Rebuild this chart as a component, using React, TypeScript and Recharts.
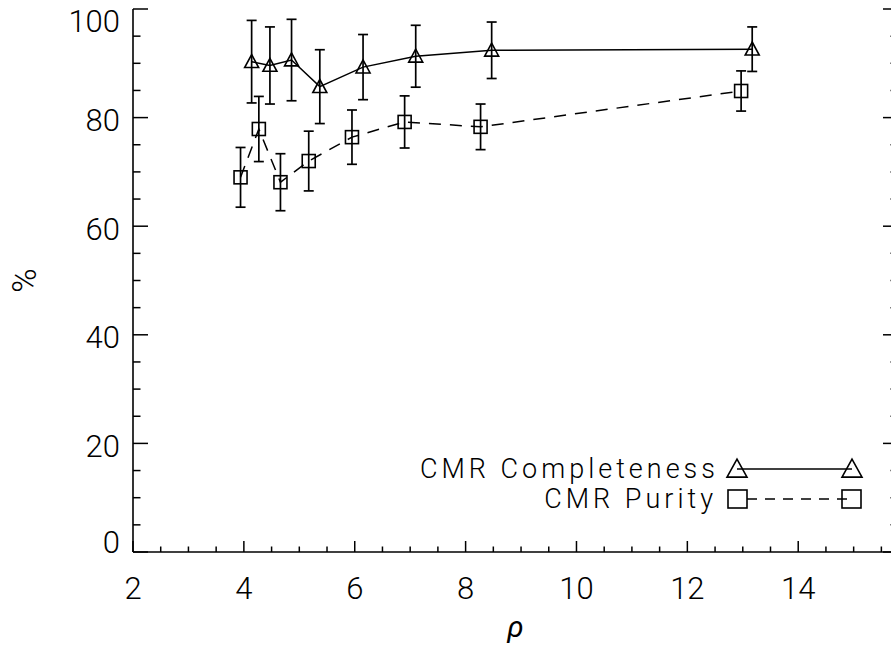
import React from 'react';
import { ScatterChart, Scatter, XAxis, YAxis, ErrorBar, Legend } from 'recharts';

// values
const rhoCompleteness = [4.14, 4.47, 4.86, 5.37, 6.15, 7.1, 8.47, 13.17];
const completeness = [90.3, 89.6, 90.6, 85.7, 89.3, 91.3, 92.4, 92.6];
const completenessErr = [7.6, 7.1, 7.5, 6.8, 6.0, 5.7, 5.2, 4.1];

const rhoPurity = [3.94, 4.27, 4.66, 5.17, 5.95, 6.9, 8.27, 12.97];
const purity = [69.0, 77.9, 68.1, 72.0, 76.4, 79.2, 78.3, 84.9];
const purityErr = [5.5, 6.0, 5.25, 5.5, 5.0, 4.8, 4.2, 3.7];

const seriesNames = ['CMR Completeness', 'CMR Purity'];

const xTicks = [2, 2.5, 3, 3.5, 4, 4.5, 5, 5.5, 6, 6.5, 7, 7.5, 8, 8.5, 9, 9.5, 10, 10.5, 11, 11.5, 12, 12.5, 13, 13.5, 14, 14.5, 15, 15.5];
const xLabels = [2, 4, 6, 8, 10, 12, 14];
const yTicks = [0, 5, 10, 15, 20, 25, 30, 35, 40, 45, 50, 55, 60, 65, 70, 75, 80, 85, 90, 95, 100];
const yLabels = [0, 20, 40, 60, 80, 100];

const xDomain = [2, 15.8];
const yDomain = [0, 100];

const completenessData = rhoCompleteness.map((x, i) => ({ x, y: completeness[i], err: completenessErr[i] }));
const purityData = rhoPurity.map((x, i) => ({ x, y: purity[i], err: purityErr[i] }));

const FONT = 'Roboto, "Liberation Sans", sans-serif';
const INK = '#000';

function triangle(cx: number, cy: number, w: number, h: number) {
    return `${cx},${cy - h * 0.55} ${cx - w / 2},${cy + h * 0.45} ${cx + w / 2},${cy + h * 0.45}`;
}

const TriangleDot = (props: any) => {
    const { cx, cy } = props;
    if (cx == null || cy == null) return null;
    return <polygon points={triangle(cx, cy, 14, 13)} fill="none" stroke={INK} strokeWidth={1.6} />;
};

const SquareDot = (props: any) => {
    const { cx, cy } = props;
    if (cx == null || cy == null) return null;
    return <rect x={cx - 6.5} y={cy - 6.5} width={13} height={13} fill="none" stroke={INK} strokeWidth={1.6} />;
};

const BottomTick = ({ x, y, payload }: any) => {
    const major = xLabels.includes(payload.value);
    return (
        <g>
            <line x1={x} y1={y} x2={x} y2={y - (major ? 11 : 5.5)} stroke={INK} strokeWidth={1.5} />
            {major && (
                <text x={x} y={y + 47} textAnchor="middle" fontSize={31} fontFamily={FONT} fontWeight={300} fill={INK}>
                    {payload.value}
                </text>
            )}
        </g>
    );
};

const TopTick = ({ x, y, payload }: any) => {
    const major = xLabels.includes(payload.value);
    return <line x1={x} y1={y} x2={x} y2={y + (major ? 11 : 5.5)} stroke={INK} strokeWidth={1.5} />;
};

const LeftTick = ({ x, y, payload }: any) => {
    const major = yLabels.includes(payload.value);
    // end labels get nudged inward like the original
    let base = y + 13.5;
    if (payload.value === yDomain[0]) base = y + 1;
    if (payload.value === yDomain[1]) base = y + 22.5;
    return (
        <g>
            <line x1={x} y1={y} x2={x + (major ? 15 : 7.5)} y2={y} stroke={INK} strokeWidth={1.5} />
            {major && (
                <text x={x - 13} y={base} textAnchor="end" fontSize={31} fontFamily={FONT} fontWeight={300} fill={INK}>
                    {payload.value}
                </text>
            )}
        </g>
    );
};

const RightTick = ({ x, y, payload }: any) => {
    const major = yLabels.includes(payload.value);
    return <line x1={x} y1={y} x2={x - (major ? 15 : 7.5)} y2={y} stroke={INK} strokeWidth={1.5} />;
};

const LegendBox = () => (
    <svg width={910} height={647} style={{ position: 'absolute', left: 0, top: 0 }}>
        <text x={719} y={478} textAnchor="end" fontSize={27} fontFamily={FONT} fontWeight={300} letterSpacing={4} fill={INK}>
            {seriesNames[0]}
        </text>
        <line x1={737} y1={469} x2={852} y2={469} stroke={INK} strokeWidth={1.5} />
        <polygon points={triangle(737, 469, 20, 18)} fill="none" stroke={INK} strokeWidth={1.6} />
        <polygon points={triangle(852, 469, 20, 18)} fill="none" stroke={INK} strokeWidth={1.6} />
        <text x={717} y={508} textAnchor="end" fontSize={27} fontFamily={FONT} fontWeight={300} letterSpacing={4} fill={INK}>
            {seriesNames[1]}
        </text>
        <line x1={747} y1={499} x2={852} y2={499} stroke={INK} strokeWidth={1.5} strokeDasharray="10 8" />
        <rect x={728} y={490} width={19} height={18} fill="none" stroke={INK} strokeWidth={1.6} />
        <rect x={842} y={490} width={19} height={18} fill="none" stroke={INK} strokeWidth={1.6} />
    </svg>
);

export default function App() {
    return (
        <div style={{ position: 'absolute', left: 0, top: 0, width: 891, height: 647, overflow: 'hidden', background: '#fff' }}>
            <ScatterChart width={910} height={647} margin={{ top: 9, right: 0, left: 0, bottom: 0 }}>
                <XAxis
                    xAxisId={0}
                    type="number"
                    dataKey="x"
                    domain={xDomain}
                    ticks={xTicks}
                    interval={0}
                    allowDataOverflow
                    height={95}
                    tickSize={0}
                    tickMargin={0}
                    tickLine={false}
                    axisLine={{ stroke: INK, strokeWidth: 1.6 }}
                    tick={<BottomTick />}
                    label={{
                        content: ({ viewBox }: any) => (
                            <text x={viewBox.x + viewBox.width / 2} y={viewBox.y + 85} textAnchor="middle" fontSize={30} fontStyle="italic" fontFamily={FONT} fill={INK}>
                                ρ
                            </text>
                        ),
                    }}
                />
                <XAxis
                    xAxisId="top"
                    orientation="top"
                    type="number"
                    dataKey="x"
                    domain={xDomain}
                    ticks={xTicks}
                    interval={0}
                    allowDataOverflow
                    height={0}
                    tickSize={0}
                    tickMargin={0}
                    tickLine={false}
                    axisLine={{ stroke: INK, strokeWidth: 1.6 }}
                    tick={<TopTick />}
                />
                <YAxis
                    yAxisId={0}
                    type="number"
                    dataKey="y"
                    domain={yDomain}
                    ticks={yTicks}
                    interval={0}
                    allowDataOverflow
                    width={133}
                    tickSize={0}
                    tickMargin={0}
                    tickLine={false}
                    axisLine={{ stroke: INK, strokeWidth: 1.6 }}
                    tick={<LeftTick />}
                    label={{
                        content: ({ viewBox }: any) => (
                            <text
                                x={viewBox.x + 24}
                                y={viewBox.y + viewBox.height / 2}
                                transform={`rotate(-90 ${viewBox.x + 24} ${viewBox.y + viewBox.height / 2})`}
                                textAnchor="middle"
                                dominantBaseline="central"
                                fontSize={33}
                                fontFamily={FONT}
                                fontWeight={300}
                                fill={INK}
                            >
                                %
                            </text>
                        ),
                    }}
                />
                <YAxis
                    yAxisId="right"
                    orientation="right"
                    type="number"
                    dataKey="y"
                    domain={yDomain}
                    ticks={yTicks}
                    interval={0}
                    allowDataOverflow
                    width={12}
                    tickSize={0}
                    tickMargin={0}
                    tickLine={false}
                    axisLine={{ stroke: INK, strokeWidth: 1.6 }}
                    tick={<RightTick />}
                />
                <Legend
                    layout="horizontal"
                    verticalAlign="middle"
                    align="center"
                    wrapperStyle={{ position: 'absolute', left: 0, top: 0, width: 910, height: 647, pointerEvents: 'none' }}
                    content={() => <LegendBox />}
                />
                <Scatter
                    name={seriesNames[0]}
                    data={completenessData}
                    shape={<TriangleDot />}
                    line={{ stroke: INK, strokeWidth: 1.5 }}
                    lineType="joint"
                    isAnimationActive={false}
                >
                    <ErrorBar dataKey="err" direction="y" width={5} stroke={INK} strokeWidth={1.7} />
                </Scatter>
                <Scatter
                    name={seriesNames[1]}
                    data={purityData}
                    shape={<SquareDot />}
                    line={{ stroke: INK, strokeWidth: 1.5, strokeDasharray: '12 9' }}
                    lineType="joint"
                    isAnimationActive={false}
                >
                    <ErrorBar dataKey="err" direction="y" width={5} stroke={INK} strokeWidth={1.7} />
                </Scatter>
            </ScatterChart>
        </div>
    );
}
